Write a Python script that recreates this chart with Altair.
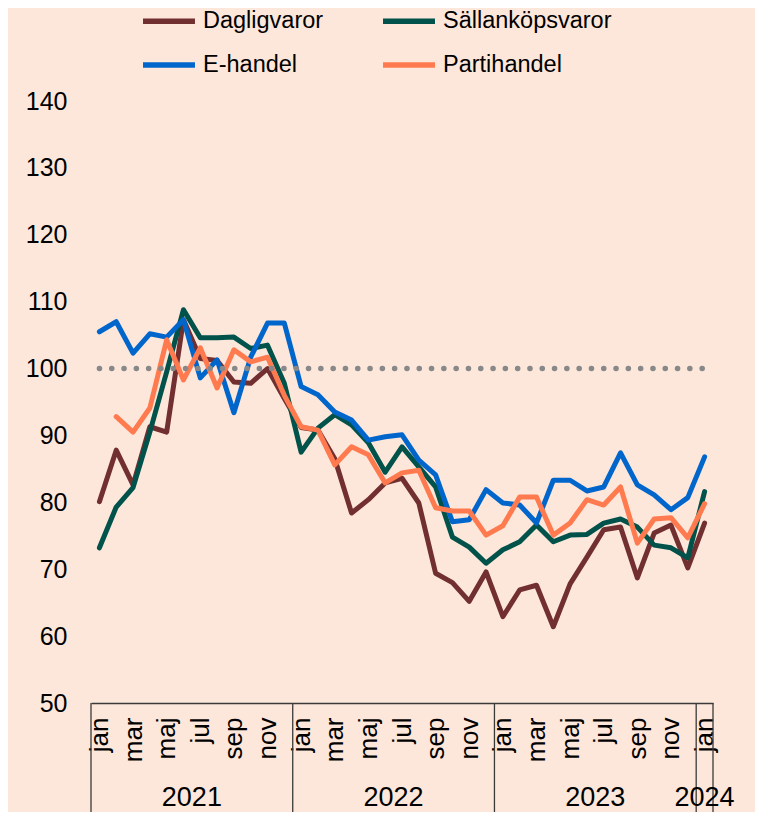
import altair as alt
import pandas as pd

# ---- data ----
month_names = ["jan", "feb", "mar", "apr", "maj", "jun", "jul", "aug", "sep", "okt", "nov", "dec"]
year_names = ["2021", "2022", "2023", "2024"]
year_centers = [5.5, 17.5, 29.5, 36]
year_bounds = [-0.5, 11.5, 23.5, 35.5, 36.5]
ref_level = [100]

series_names = ["Dagligvaror", "Sällanköpsvaror", "E-handel", "Partihandel"]
series_colors = ["#722F30", "#00524A", "#0066CC", "#FF7B4F"]

dagligvaror = [80.1, 87.8, 82.6, 91.3, 90.5, 107.3, 101.5, 101.2, 98.0, 97.8, 100.0, 95.5,
               91.2, 90.8, 86.5, 78.4, 80.4, 82.9, 83.6, 79.9, 69.4, 68.0, 65.2, 69.6,
               62.9, 66.9, 67.6, 61.4, 67.8, 71.8, 75.9, 76.3, 68.7, 75.4, 76.6, 70.2,
               76.9]
sallankopsvaror = [73.2, 79.3, 82.2, 90.5, 99.5, 108.8, 104.6, 104.6, 104.7, 103.0, 103.5, 97.8,
                   87.5, 91.1, 93.1, 91.6, 88.9, 84.5, 88.3, 85.3, 82.3, 74.8, 73.3, 70.9,
                   72.9, 74.1, 76.6, 74.1, 75.1, 75.2, 76.9, 77.5, 76.3, 73.6, 73.2, 71.7,
                   81.6]
ehandel = [105.5, 107.0, 102.3, 105.2, 104.7, 107.3, 98.6, 101.3, 93.4, 101.7, 106.8, 106.8,
           97.3, 96.1, 93.5, 92.3, 89.3, 89.8, 90.1, 86.3, 84.1, 77.1, 77.4, 81.9,
           79.9, 79.6, 76.9, 83.3, 83.3, 81.7, 82.3, 87.4, 82.6, 81.1, 78.9, 80.7,
           86.8]
partihandel = [None, 92.8, 90.5, 94.1, 104.3, 98.3, 103.1, 97.1, 102.8, 101.0, 101.7, 96.0,
               91.3, 90.8, 85.6, 88.3, 87.1, 82.9, 84.4, 84.8, 79.2, 78.7, 78.7, 75.1,
               76.5, 80.8, 80.8, 75.1, 76.9, 80.4, 79.6, 82.3, 73.9, 77.5, 77.7, 74.7,
               79.8]

rows = []
for k, (name, vals) in enumerate(zip(series_names, [dagligvaror, sallankopsvaror, ehandel, partihandel])):
    for i, v in enumerate(vals):
        if v is not None:
            rows.append({"i": i, "serie": name, "varde": v, "ordning": k})
df = pd.DataFrame(rows)

W, H = 622, 602
FONT = "Liberation Sans"

xscale = alt.Scale(domain=[-0.5, 36.5], nice=False, zero=False)
yscale = alt.Scale(domain=[50, 140], nice=False, zero=False)

label_expr = "[" + ",".join("'%s'" % m for m in month_names) + "][datum.value % 12]"

x_axis = alt.Axis(values=list(range(0, 37, 2)), labelExpr=label_expr, labelAngle=270,
                  labelAlign="right", labelBaseline="middle", labelOverlap=False,
                  labelFlush=False, labelBound=False,
                  labelFontSize=26, labelPadding=14, tickSize=0, ticks=False,
                  domainColor="#3a3a3a", domainWidth=1.5, grid=False, title=None,
                  labelColor="#000000", labelFont=FONT)
y_axis = alt.Axis(values=list(range(50, 141, 10)), grid=False, domain=False, ticks=False,
                  labelPadding=24, labelFontSize=25, title=None, labelColor="#000000",
                  labelFont=FONT, labelOverlap=False)

lines = alt.Chart(df).mark_line(strokeWidth=5, strokeCap="round", strokeJoin="round").encode(
    x=alt.X("i:Q", scale=xscale, axis=x_axis),
    y=alt.Y("varde:Q", scale=yscale, axis=y_axis),
    color=alt.Color("serie:N", scale=alt.Scale(domain=series_names, range=series_colors),
                    legend=alt.Legend(orient="none", legendX=49, legendY=-109, columns=2,
                                      direction="horizontal",
                                      title=None, symbolType="stroke", symbolSize=2700,
                                      symbolStrokeWidth=5.5, labelFontSize=23.5, labelFont=FONT,
                                      labelColor="#000000", columnPadding=48, rowPadding=3,
                                      labelOffset=5, labelLimit=400)),
    order=alt.Order("ordning:Q"),
)

ref_df = pd.DataFrame({"niva": ref_level, "x0": [0], "x1": [36]})
ref = alt.Chart(ref_df).mark_rule(color="#888888", strokeWidth=5.5, strokeDash=[0.1, 12.2],
                                  strokeCap="round").encode(
    y=alt.Y("niva:Q", scale=yscale, axis=y_axis),
    x=alt.X("x0:Q", scale=xscale, axis=x_axis),
    x2="x1:Q",
)

div_df = pd.DataFrame({"gr": year_bounds})
dividers = alt.Chart(div_df).mark_rule(color="#3a3a3a", strokeWidth=1.3).encode(
    x=alt.X("gr:Q", scale=xscale, axis=x_axis),
    y=alt.value(H),
    y2=alt.value(H + 120),
)

yr_df = pd.DataFrame({"ar": year_names, "pos": year_centers})
years = alt.Chart(yr_df).mark_text(fontSize=27, font=FONT, color="#000000", baseline="middle",
                                   align="center").encode(
    x=alt.X("pos:Q", scale=xscale, axis=x_axis),
    y=alt.value(H + 95),
    text="ar:N",
)

chart = alt.layer(lines, ref, dividers, years).properties(
    width=W, height=H,
    autosize=alt.AutoSizeParams(type="none"),
    padding={"left": 83, "top": 93, "right": 42, "bottom": 109},
).configure(background="#FDE7DB", font=FONT).configure_view(
    stroke=None
).configure_axis(labelOverlap=False)

chart.save("out.html", embed_options={"renderer": "svg", "actions": False})
